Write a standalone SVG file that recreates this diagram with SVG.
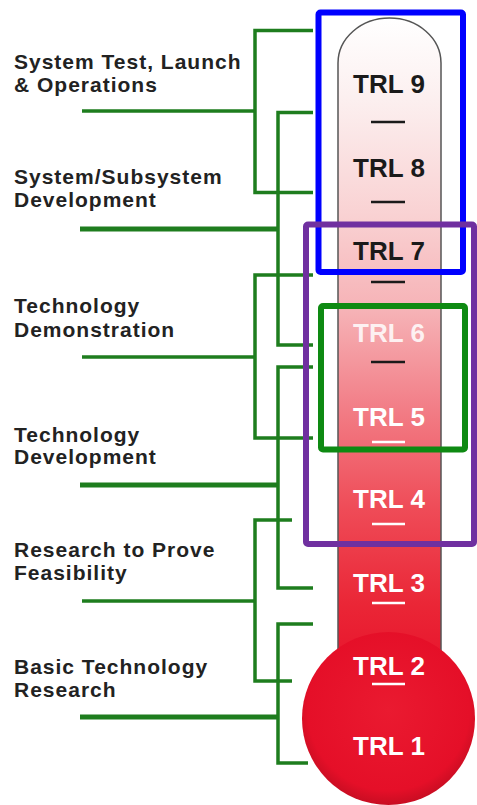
<svg xmlns="http://www.w3.org/2000/svg" width="477" height="805" viewBox="0 0 477 805">
  <style>
    .lbl { font-family: "Liberation Sans", Arial, sans-serif; font-weight: bold; font-size: 21px; letter-spacing: 1px; fill: #222; }
    .trl { font-family: "Liberation Sans", Arial, sans-serif; font-weight: bold; font-size: 26px; text-anchor: middle; }
    .dark { fill: #1a1a1a; }
    .light { fill: #ffffff; }
    .conn { fill: none; stroke: #1e7d1e; stroke-width: 3.5; }
    .thick { stroke-width: 5; }
    .dashb { stroke: #1a1a1a; stroke-width: 2.5; }
    .dashw { stroke: #ffffff; stroke-width: 2.5; }
    .box { fill: none; stroke-width: 6; }
  </style>
  <defs>
    <linearGradient id="tubeGrad" x1="0" y1="18" x2="0" y2="670" gradientUnits="userSpaceOnUse">
      <stop offset="0" stop-color="#ffffff"/>
      <stop offset="0.12" stop-color="#fcf0f0"/>
      <stop offset="0.3" stop-color="#f9d2d3"/>
      <stop offset="0.45" stop-color="#f6b2b6"/>
      <stop offset="0.6" stop-color="#f27d86"/>
      <stop offset="0.75" stop-color="#ef4c58"/>
      <stop offset="0.9" stop-color="#ea2636"/>
      <stop offset="1" stop-color="#e8142c"/>
    </linearGradient>
    <radialGradient id="bulbGrad" cx="0.5" cy="0.45" r="0.55">
      <stop offset="0" stop-color="#ea1a30"/>
      <stop offset="0.85" stop-color="#e50f28"/>
      <stop offset="1" stop-color="#c80d22"/>
    </radialGradient>
  </defs>

  <rect width="477" height="805" fill="#ffffff"/>

  <g id="thermometer">
    <path d="M338,63 A51.5,45 0 0 1 441,63 V680 H338 Z" fill="url(#tubeGrad)" stroke="#555" stroke-width="1.5"/>
    <circle cx="388.5" cy="718.5" r="86.5" fill="url(#bulbGrad)"/>
  </g>

  <g id="connectors">
    <line class="conn" x1="82" y1="111" x2="255" y2="111"/>
    <path class="conn" d="M313,30.5 H255 V192.5 H313"/>
    <line class="conn thick" x1="80" y1="229" x2="278" y2="229"/>
    <path class="conn" d="M313,112.5 H278 V345 H313"/>
    <line class="conn" x1="82" y1="357" x2="255" y2="357"/>
    <path class="conn" d="M313,275 H255 V438 H313"/>
    <line class="conn thick" x1="80" y1="485" x2="278" y2="485"/>
    <path class="conn" d="M313,367 H278 V588 H313"/>
    <line class="conn" x1="82" y1="601" x2="255" y2="601"/>
    <path class="conn" d="M292,520 H255 V681 H292"/>
    <line class="conn thick" x1="80" y1="717" x2="278" y2="717"/>
    <path class="conn" d="M313,624 H278 V763 H308"/>
  </g>

  <g id="stage-system-test">
    <text class="lbl" x="14" y="69">System Test, Launch</text>
    <text class="lbl" x="14" y="92">&amp; Operations</text>
  </g>
  <g id="stage-system-dev">
    <text class="lbl" x="14" y="184">System/Subsystem</text>
    <text class="lbl" x="14" y="207">Development</text>
  </g>
  <g id="stage-tech-demo">
    <text class="lbl" x="14" y="313">Technology</text>
    <text class="lbl" x="14" y="337">Demonstration</text>
  </g>
  <g id="stage-tech-dev">
    <text class="lbl" x="14" y="442">Technology</text>
    <text class="lbl" x="14" y="464">Development</text>
  </g>
  <g id="stage-research-feasibility">
    <text class="lbl" x="14" y="557">Research to Prove</text>
    <text class="lbl" x="14" y="580">Feasibility</text>
  </g>
  <g id="stage-basic-research">
    <text class="lbl" x="14" y="674">Basic Technology</text>
    <text class="lbl" x="14" y="697">Research</text>
  </g>

  <g id="trl9"><text class="trl dark" x="389" y="93">TRL 9</text><line class="dashb" x1="371" y1="122" x2="405" y2="122"/></g>
  <g id="trl8"><text class="trl dark" x="389" y="177">TRL 8</text><line class="dashb" x1="371" y1="202" x2="405" y2="202"/></g>
  <g id="trl7"><text class="trl dark" x="389" y="260">TRL 7</text><line class="dashb" x1="371" y1="282" x2="405" y2="282"/></g>
  <g id="trl6"><text class="trl light" x="389" y="342" fill-opacity="0.85">TRL 6</text><line class="dashb" x1="371" y1="362" x2="405" y2="362"/></g>
  <g id="trl5"><text class="trl light" x="389" y="426">TRL 5</text><line class="dashw" x1="372" y1="442" x2="405" y2="442"/></g>
  <g id="trl4"><text class="trl light" x="389" y="508">TRL 4</text><line class="dashw" x1="372" y1="524" x2="405" y2="524"/></g>
  <g id="trl3"><text class="trl light" x="389" y="592">TRL 3</text><line class="dashw" x1="372" y1="603" x2="405" y2="603"/></g>
  <g id="trl2"><text class="trl light" x="389" y="675">TRL 2</text><line class="dashw" x1="372" y1="684" x2="405" y2="684"/></g>
  <g id="trl1"><text class="trl light" x="389" y="755">TRL 1</text></g>

  <g id="box-blue"><rect class="box" x="318.5" y="12.5" width="144.5" height="259.5" rx="2" stroke="#0000ff"/></g>
  <g id="box-purple"><rect class="box" x="306" y="224.5" width="168" height="319.5" rx="2" stroke="#7030a0" stroke-width="5"/></g>
  <g id="box-green"><rect class="box" x="321" y="306" width="144" height="143.5" rx="2" stroke="#0e8a12"/></g>
</svg>
